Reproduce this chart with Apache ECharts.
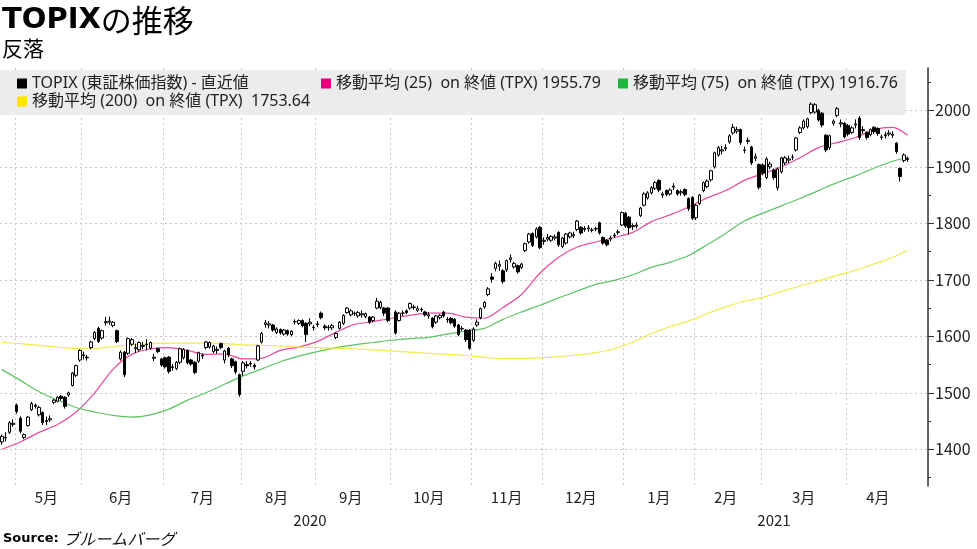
<!DOCTYPE html>
<html>
<head>
<meta charset="utf-8">
<title>TOPIXの推移</title>
<script src="https://cdn.jsdelivr.net/npm/echarts@6/dist/echarts.min.js"></script>
<style>
  html, body { margin: 0; padding: 0; background: #fff; }
  #main { width: 977px; height: 549px; }
</style>
</head>
<body>
<div id="main"></div>
<script>
// 東証の休場日（土日以外）
const holidays = [
  '2020-04-29', '2020-05-04', '2020-05-05', '2020-05-06', '2020-07-23', '2020-07-24',
  '2020-08-10', '2020-09-21', '2020-09-22', '2020-11-03', '2020-11-23', '2020-12-31',
  '2021-01-01', '2021-01-11', '2021-02-11', '2021-02-23'
]

// TOPIX 日足 [始値, 終値, 安値, 高値]
const ohlc = [
  // 2020-04
  [1413, 1423, 1408, 1426], [1420, 1421, 1414, 1430], [1430, 1447, 1427, 1450], [1444, 1446, 1440, 1453],
  // 05
  [1478, 1467, 1463, 1481], [1455, 1432, 1428, 1458], [1421, 1426, 1418, 1428], [1442, 1457, 1440, 1459], [1470, 1481, 1468, 1484],
  [1478, 1476, 1472, 1481], [1461, 1474, 1458, 1477], [1465, 1447, 1443, 1467], [1449, 1451, 1443, 1458], [1452, 1454, 1448, 1460],
  [1483, 1487, 1480, 1489], [1485, 1492, 1483, 1494], [1494, 1490, 1486, 1496], [1492, 1476, 1472, 1494], [1496, 1500, 1493, 1502],
  [1513, 1535, 1511, 1537], [1531, 1548, 1528, 1550], [1558, 1575, 1555, 1577],
  // 06
  [1567, 1566, 1559, 1573], [1563, 1562, 1557, 1567], [1580, 1590, 1577, 1592], [1596, 1607, 1593, 1609], [1614, 1591, 1588, 1617],
  [1597, 1610, 1594, 1612], [1624, 1626, 1619, 1634], [1625, 1627, 1620, 1635], [1619, 1625, 1616, 1627], [1610, 1591, 1588, 1612],
  [1560, 1572, 1557, 1575], [1572, 1532, 1528, 1574], [1570, 1596, 1567, 1598], [1586, 1594, 1583, 1597], [1578, 1580, 1570, 1587],
  [1576, 1589, 1573, 1591], [1582, 1584, 1577, 1590], [1585, 1586, 1575, 1595], [1579, 1589, 1576, 1591], [1561, 1563, 1556, 1569],
  [1578, 1573, 1570, 1580], [1560, 1549, 1546, 1562],
  // 07
  [1562, 1546, 1543, 1564], [1563, 1538, 1534, 1565], [1546, 1545, 1539, 1551], [1543, 1554, 1540, 1556], [1554, 1578, 1551, 1580],
  [1562, 1577, 1559, 1579], [1575, 1553, 1550, 1577], [1558, 1551, 1548, 1560], [1554, 1536, 1533, 1556], [1556, 1571, 1553, 1573],
  [1566, 1565, 1560, 1570], [1580, 1590, 1577, 1592], [1581, 1589, 1578, 1591], [1573, 1583, 1570, 1585], [1575, 1577, 1569, 1582],
  [1587, 1580, 1577, 1589], [1558, 1574, 1552, 1576], [1579, 1567, 1563, 1581], [1560, 1548, 1544, 1562], [1555, 1537, 1533, 1557],
  [1532, 1497, 1493, 1534],
  // 08
  [1538, 1553, 1530, 1556], [1550, 1548, 1543, 1556], [1552, 1551, 1546, 1556], [1549, 1546, 1541, 1552], [1558, 1583, 1556, 1585],
  [1590, 1605, 1587, 1608], [1621, 1624, 1615, 1629], [1620, 1622, 1614, 1627], [1620, 1611, 1608, 1622], [1607, 1613, 1604, 1616],
  [1612, 1606, 1603, 1614], [1604, 1611, 1601, 1613], [1610, 1604, 1601, 1612], [1603, 1609, 1600, 1611], [1626, 1626, 1621, 1630],
  [1623, 1628, 1620, 1630], [1628, 1619, 1616, 1630], [1623, 1603, 1590, 1625], [1622, 1625, 1618, 1632], [1616, 1615, 1610, 1620],
  // 09
  [1622, 1621, 1616, 1627], [1641, 1633, 1630, 1644], [1618, 1615, 1611, 1621], [1616, 1615, 1610, 1620], [1615, 1619, 1611, 1622],
  [1598, 1605, 1595, 1607], [1614, 1625, 1612, 1627], [1623, 1637, 1620, 1639], [1642, 1650, 1640, 1652], [1638, 1645, 1635, 1648],
  [1641, 1640, 1636, 1644], [1636, 1642, 1633, 1645], [1638, 1640, 1633, 1646], [1635, 1640, 1632, 1642], [1634, 1625, 1622, 1636],
  [1628, 1634, 1625, 1636], [1650, 1662, 1648, 1668], [1651, 1660, 1648, 1663], [1650, 1641, 1636, 1652], [1650, 1628, 1625, 1652],
  // 10 （10/1 は売買停止）
  '-', [1643, 1606, 1603, 1646], [1628, 1641, 1626, 1643], [1641, 1641, 1636, 1646], [1645, 1642, 1639, 1648],
  [1650, 1658, 1647, 1660], [1652, 1651, 1647, 1656], [1646, 1649, 1643, 1654], [1648, 1647, 1643, 1651], [1643, 1638, 1635, 1645],
  [1636, 1638, 1631, 1643], [1632, 1617, 1614, 1634], [1625, 1636, 1622, 1638], [1633, 1637, 1630, 1639], [1643, 1636, 1633, 1645],
  [1629, 1630, 1624, 1634], [1632, 1624, 1621, 1634], [1630, 1618, 1615, 1632], [1620, 1603, 1600, 1622], [1613, 1614, 1609, 1618],
  [1611, 1594, 1590, 1613], [1611, 1579, 1576, 1613],
  // 11
  [1593, 1613, 1590, 1616], [1620, 1625, 1617, 1630], [1633, 1649, 1630, 1651], [1652, 1660, 1649, 1662], [1674, 1684, 1671, 1687],
  [1705, 1701, 1695, 1712], [1720, 1729, 1715, 1732], [1724, 1727, 1716, 1734], [1716, 1697, 1693, 1719], [1718, 1734, 1714, 1736],
  [1736, 1739, 1731, 1745], [1723, 1729, 1720, 1732], [1725, 1714, 1711, 1727], [1722, 1728, 1719, 1730], [1752, 1764, 1749, 1766],
  [1767, 1781, 1764, 1783], [1782, 1761, 1758, 1784], [1776, 1790, 1773, 1793], [1793, 1757, 1754, 1795],
  // 12
  [1768, 1770, 1762, 1775], [1772, 1775, 1768, 1781], [1770, 1777, 1767, 1779], [1774, 1776, 1770, 1780], [1784, 1762, 1758, 1786],
  [1759, 1774, 1756, 1776], [1765, 1781, 1762, 1783], [1776, 1783, 1773, 1785], [1778, 1780, 1774, 1785], [1789, 1804, 1786, 1806],
  [1793, 1783, 1780, 1795], [1789, 1791, 1785, 1795], [1790, 1792, 1785, 1797], [1788, 1788, 1784, 1792], [1790, 1791, 1786, 1794],
  [1801, 1783, 1780, 1803], [1775, 1765, 1762, 1777], [1770, 1762, 1759, 1772], [1772, 1774, 1768, 1778], [1779, 1778, 1774, 1783],
  [1784, 1785, 1780, 1789], [1797, 1819, 1795, 1821],
  // 2021-01
  [1818, 1795, 1792, 1820], [1811, 1792, 1780, 1813], [1794, 1796, 1788, 1800], [1795, 1797, 1791, 1802], [1814, 1827, 1811, 1829],
  [1832, 1852, 1830, 1855], [1845, 1854, 1842, 1857], [1854, 1863, 1851, 1866], [1862, 1872, 1859, 1875], [1876, 1859, 1855, 1878],
  [1850, 1852, 1845, 1856], [1858, 1851, 1848, 1860], [1852, 1859, 1849, 1862], [1864, 1866, 1859, 1871], [1858, 1852, 1849, 1860],
  [1854, 1856, 1849, 1860], [1860, 1851, 1848, 1862], [1844, 1826, 1822, 1846], [1846, 1809, 1806, 1848],
  // 02
  [1810, 1832, 1806, 1834], [1835, 1850, 1832, 1852], [1858, 1872, 1855, 1874], [1865, 1875, 1862, 1878], [1877, 1893, 1874, 1895],
  [1900, 1925, 1897, 1927], [1921, 1934, 1918, 1937], [1928, 1930, 1922, 1937], [1932, 1934, 1928, 1940], [1944, 1955, 1941, 1958],
  [1960, 1970, 1957, 1976], [1963, 1966, 1959, 1971], [1966, 1943, 1939, 1968], [1930, 1929, 1924, 1936], [1945, 1947, 1940, 1952],
  [1935, 1907, 1903, 1937], [1915, 1918, 1910, 1924], [1904, 1864, 1860, 1906],
  // 03
  [1903, 1889, 1885, 1906], [1881, 1914, 1878, 1917], [1900, 1905, 1896, 1909], [1894, 1881, 1877, 1897], [1863, 1896, 1858, 1899],
  [1891, 1916, 1888, 1918], [1907, 1916, 1903, 1919], [1912, 1914, 1907, 1920], [1917, 1917, 1912, 1922], [1930, 1951, 1927, 1953],
  [1961, 1969, 1958, 1972], [1969, 1981, 1966, 1984], [1971, 1985, 1968, 1987], [1996, 2011, 1993, 2014], [1997, 2010, 1994, 2013],
  [2000, 1983, 1980, 2003], [1995, 1974, 1970, 1997], [1956, 1930, 1926, 1958], [1934, 1955, 1930, 1957], [1977, 1981, 1973, 1984],
  [1991, 2003, 1988, 2006], [1976, 1978, 1970, 1984], [1977, 1953, 1950, 1979],
  // 04
  [1973, 1958, 1954, 1976], [1961, 1969, 1958, 1972], [1974, 1976, 1968, 1984], [1986, 1952, 1948, 1990], [1964, 1966, 1959, 1972],
  [1961, 1952, 1948, 1963], [1957, 1966, 1954, 1968], [1970, 1962, 1958, 1972], [1968, 1959, 1955, 1970], [1953, 1952, 1948, 1957],
  [1955, 1957, 1950, 1962], [1958, 1960, 1954, 1965], [1956, 1958, 1951, 1963], [1942, 1927, 1923, 1944], [1897, 1883, 1874, 1899],
  [1911, 1921, 1908, 1924], [1915, 1913, 1909, 1918]
]

// 移動平均（5営業日ごとに読み取り）
const maIdx = [0, 5, 10, 15, 20, 25, 30, 35, 40, 45, 50, 55, 60, 65, 70, 75, 80, 85, 90, 95,
  100, 105, 110, 115, 120, 125, 130, 135, 140, 145, 150, 155, 160, 165, 170, 175, 180, 185, 190, 195,
  200, 205, 210, 215, 220, 225, 230, 235, 240, 244]
const ma25 = [1400, 1413, 1430, 1444, 1466, 1500, 1542, 1568, 1578, 1580, 1575, 1568, 1569, 1560, 1561, 1575, 1581, 1591, 1607, 1621,
  1626, 1632, 1637, 1641, 1641, 1634, 1632, 1651, 1674, 1712, 1740, 1758, 1767, 1775, 1784, 1803, 1815, 1829, 1845, 1858,
  1876, 1888, 1900, 1916, 1934, 1943, 1952, 1966, 1970, 1956]
const ma75 = [1541, 1522, 1502, 1487, 1474, 1466, 1460, 1457, 1461, 1471, 1487, 1500, 1515, 1530, 1542, 1555, 1565, 1573, 1580, 1585,
  1589, 1593, 1596, 1598, 1604, 1609, 1614, 1630, 1643, 1655, 1668, 1680, 1692, 1699, 1709, 1722, 1731, 1743, 1762, 1782,
  1804, 1818, 1831, 1844, 1858, 1872, 1884, 1898, 1910, 1917]
const ma200 = [1589, 1587, 1584, 1581, 1578, 1578, 1582, 1585, 1587, 1588, 1588, 1588, 1587, 1585, 1584, 1583, 1581, 1580, 1579, 1578,
  1576, 1574, 1572, 1570, 1568, 1566, 1563, 1561, 1561, 1562, 1564, 1567, 1571, 1578, 1590, 1605, 1617, 1627, 1640, 1652,
  1662, 1669, 1679, 1689, 1698, 1708, 1717, 1728, 1740, 1752]

// 凡例の直近値
const lastValues = ['1955.79', '1916.76', '1753.64']

// 軸の目盛
const yLabels = [1400, 1500, 1600, 1700, 1800, 1900, 2000]
const yMinorTicks = [1350, 1400, 1450, 1500, 1550, 1600, 1650, 1700, 1750, 1800, 1850, 1900, 1950, 2000, 2050]

const FONT = '"Noto Sans CJK JP", "Noto Sans", sans-serif'
const LEGEND_FONT = '"Noto Sans", "Noto Sans CJK JP", sans-serif'

// 営業日のカテゴリを作る
function buildTradingDays () {
  const out = []
  const d = new Date(Date.UTC(2020, 3, 24))
  const end = Date.UTC(2021, 3, 23)
  while (d.getTime() <= end) {
    const wd = d.getUTCDay()
    const s = d.toISOString().slice(0, 10)
    // 10/1 はシステム障害で終日停止だが、軸上の日としては残す
    if (wd !== 0 && wd !== 6 && holidays.indexOf(s) < 0) out.push(s)
    d.setUTCDate(d.getUTCDate() + 1)
  }
  return out
}

const days = buildTradingDays()
const categories = days.concat(['p1', 'p2', 'p3', 'p4', 'p5']) // 右端の余白

// 月の区切りと月ラベルの位置
const monthFirst = {}
const monthLast = {}
days.forEach((d, i) => {
  const k = d.slice(0, 7)
  if (monthFirst[k] === undefined) monthFirst[k] = i
  monthLast[k] = i
})
const boundarySet = {}
const monthLabelSet = {}
Object.keys(monthFirst).forEach((k) => {
  if (monthFirst[k] > 0) boundarySet[monthFirst[k]] = true
  if (k !== '2020-04') monthLabelSet[Math.floor((monthFirst[k] + monthLast[k]) / 2)] = true
})
// 年ラベルの位置
const firstOf2021 = days.findIndex((d) => d.startsWith('2021'))
const yearLabelSet = {}
yearLabelSet[Math.floor((0 + firstOf2021 - 1) / 2)] = true
yearLabelSet[Math.floor((firstOf2021 + categories.length - 1) / 2)] = true

const maData = (arr) => maIdx.map((idx, k) => [idx, arr[k]])

const legendText = {
  TOPIX: '{w1|TOPIX (東証株価指数) - 直近値}',
  MA25: '{w2|移動平均 (25)  on 終値 (TPX) ' + lastValues[0] + '}',
  MA75: '移動平均 (75)  on 終値 (TPX) ' + lastValues[1],
  MA200: '移動平均 (200)  on 終値 (TPX)  ' + lastValues[2]
}

const chart = echarts.init(document.getElementById('main'))
const dotted = { color: '#c6c6c6', width: 1, type: [2, 3] }
const legendStyle = { fontFamily: LEGEND_FONT, fontSize: 16, lineHeight: 17, color: '#222' }

chart.setOption({
  animation: false,
  backgroundColor: '#ffffff',
  title: [
    {
      text: '{a|TOPIX}{b|の推移}',
      left: 2,
      top: 2,
      padding: 0,
      textStyle: {
        rich: {
          a: { fontFamily: '"DejaVu Sans", sans-serif', fontWeight: 'bold', fontSize: 29, color: '#000', lineHeight: 36 },
          b: { fontFamily: FONT, fontWeight: 'normal', fontSize: 31, color: '#000', lineHeight: 36 }
        }
      }
    },
    {
      text: '反落',
      left: 2,
      top: 36,
      padding: 0,
      textStyle: { fontFamily: FONT, fontWeight: 'normal', fontSize: 21, color: '#000', lineHeight: 24 }
    },
    {
      text: '{a|Source: }{b|ブルームバーグ}',
      left: 3,
      top: 530,
      padding: 0,
      textStyle: {
        fontWeight: 'normal',
        rich: {
          a: { fontFamily: '"DejaVu Sans", sans-serif', fontWeight: 'bold', fontSize: 13, color: '#000', lineHeight: 18 },
          b: { fontFamily: FONT, fontWeight: 'normal', fontStyle: 'italic', fontSize: 16, color: '#111', lineHeight: 18 }
        }
      }
    }
  ],
  legend: {
    left: 0,
    top: 70,
    width: 905,
    padding: [5, 8, 5, 17],
    itemGap: 1,
    itemWidth: 10,
    itemHeight: 10,
    backgroundColor: '#ececec',
    selectedMode: false,
    textStyle: Object.assign({}, legendStyle, {
      rich: {
        w1: Object.assign({ width: 288 }, legendStyle),
        w2: Object.assign({ width: 281 }, legendStyle)
      }
    }),
    formatter: (name) => legendText[name],
    data: [
      { name: 'TOPIX', icon: 'rect', itemStyle: { color: '#000', borderWidth: 0 } },
      { name: 'MA25', icon: 'rect', itemStyle: { color: '#e4007f' } },
      { name: 'MA75', icon: 'rect', itemStyle: { color: '#1eb53a' } },
      { name: 'MA200', icon: 'rect', itemStyle: { color: '#ffe500' } }
    ]
  },
  graphic: [
    {
      type: 'group',
      left: 8,
      top: 75,
      z: 100,
      zlevel: 1,
      children: [
        { type: 'rect', shape: { x: 0, y: 0, width: 4, height: 4 }, style: { fill: '#fff', stroke: '#555', lineWidth: 1 } },
        { type: 'line', shape: { x1: 2, y1: 4, x2: 2, y2: 11 }, style: { stroke: '#555', lineWidth: 1 } }
      ]
    }
  ],
  grid: { left: 0, right: 49, top: 68, bottom: 63, containLabel: false },
  xAxis: [
    {
      type: 'category',
      data: categories,
      boundaryGap: true,
      axisLine: { show: false },
      axisTick: { show: false },
      axisLabel: {
        interval: (index) => monthLabelSet[index] === true,
        formatter: (value) => parseInt(value.slice(5, 7), 10) + '月',
        fontFamily: FONT,
        fontSize: 15,
        color: '#222',
        margin: 4
      },
      splitLine: {
        show: true,
        interval: (index) => boundarySet[index] === true,
        lineStyle: dotted
      }
    },
    {
      type: 'category',
      data: categories,
      position: 'bottom',
      offset: 23,
      boundaryGap: true,
      axisLine: { show: false },
      axisTick: { show: false },
      axisLabel: {
        interval: (index) => yearLabelSet[index] === true,
        formatter: (value) => value.slice(0, 4),
        fontFamily: FONT,
        fontSize: 15,
        color: '#222',
        margin: 4
      },
      splitLine: { show: false }
    }
  ],
  yAxis: [
    {
      type: 'value',
      position: 'right',
      min: 1335,
      max: 2075,
      axisLine: { show: true, lineStyle: { color: '#333', width: 1.5 } },
      axisTick: { show: true, customValues: yLabels, length: 6, lineStyle: { color: '#333' } },
      axisLabel: {
        customValues: yLabels,
        formatter: (v) => String(v),
        fontFamily: FONT,
        fontSize: 16,
        color: '#222',
        margin: 7
      },
      splitLine: { show: true, lineStyle: dotted }
    },
    {
      type: 'value',
      position: 'right',
      min: 1335,
      max: 2075,
      axisLine: { show: false },
      axisTick: { show: true, customValues: yMinorTicks, length: 3, lineStyle: { color: '#333' } },
      axisLabel: { show: false },
      splitLine: { show: false }
    }
  ],
  series: [
    {
      name: 'TOPIX',
      type: 'candlestick',
      xAxisIndex: 0,
      yAxisIndex: 0,
      z: 6,
      barWidth: 3,
      data: ohlc,
      itemStyle: {
        color: '#ffffff',
        color0: '#000000',
        borderColor: '#000000',
        borderColor0: '#000000',
        borderWidth: 1
      }
    },
    {
      name: 'MA25',
      type: 'line',
      z: 5,
      data: maData(ma25),
      smooth: 0.3,
      symbol: 'none',
      itemStyle: { color: '#e4007f' },
      lineStyle: { color: '#ea4a9c', width: 1.2 }
    },
    {
      name: 'MA75',
      type: 'line',
      z: 5,
      data: maData(ma75),
      smooth: 0.3,
      symbol: 'none',
      itemStyle: { color: '#1eb53a' },
      lineStyle: { color: '#5dc463', width: 1.2 }
    },
    {
      name: 'MA200',
      type: 'line',
      z: 5,
      data: maData(ma200),
      smooth: 0.3,
      symbol: 'none',
      itemStyle: { color: '#ffe500' },
      lineStyle: { color: '#f1e94a', width: 1.2 }
    }
  ]
})
</script>
</body>
</html>
